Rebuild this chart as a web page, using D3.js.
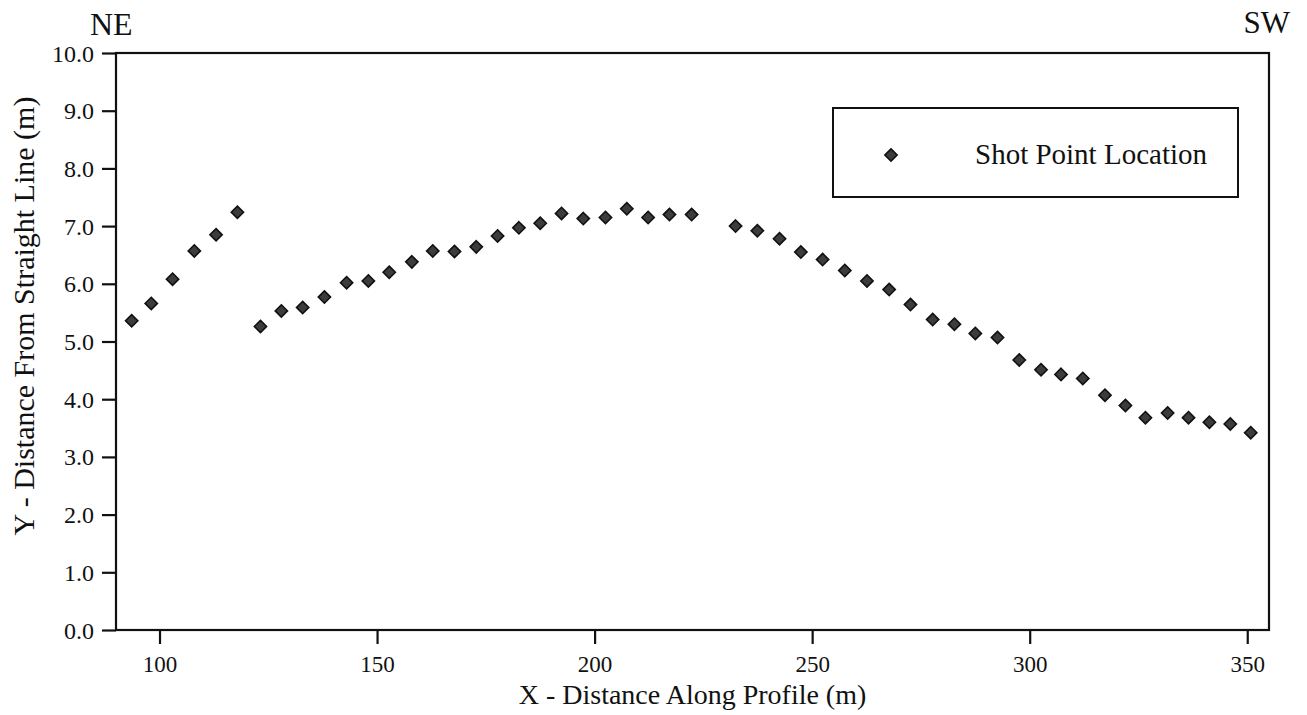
<!DOCTYPE html>
<html>
<head>
<meta charset="utf-8">
<script src="https://cdn.jsdelivr.net/npm/d3@7"></script>
<style>
  html, body { margin: 0; padding: 0; background: #fff; overflow: hidden; }
  svg { display: block; }
  text { font-family: "Liberation Serif", "Times New Roman", serif; fill: #111; }
</style>
</head>
<body>
<div id="chart"></div>
<script>
// Chart size
var width = 1307;
var height = 715;

// Margins
var margin = { top: 53, right: 38, bottom: 85, left: 116 };

var innerWidth = width - margin.left - margin.right;
var innerHeight = height - margin.top - margin.bottom;

// Data
var xDistance = [93.6, 98.1, 103.0, 108.0, 113.0, 117.9, 123.2, 128.0, 132.9, 137.9,
  143.0, 148.0, 152.8, 158.0, 162.8, 167.8, 172.8, 177.7, 182.6, 187.5,
  192.4, 197.4, 202.5, 207.4, 212.3, 217.2, 222.3, 232.4, 237.4, 242.5,
  247.4, 252.4, 257.5, 262.6, 267.7, 272.6, 277.7, 282.7, 287.5, 292.6,
  297.6, 302.6, 307.2, 312.2, 317.3, 322.0, 326.6, 331.7, 336.5, 341.3,
  346.1, 350.8];
var yDistance = [5.36, 5.66, 6.08, 6.57, 6.85, 7.24, 5.26, 5.53, 5.59, 5.77,
  6.02, 6.05, 6.20, 6.38, 6.57, 6.56, 6.64, 6.83, 6.97, 7.05,
  7.22, 7.13, 7.15, 7.30, 7.15, 7.20, 7.20, 7.00, 6.92, 6.78,
  6.55, 6.42, 6.23, 6.05, 5.90, 5.64, 5.38, 5.30, 5.14, 5.07,
  4.68, 4.51, 4.43, 4.36, 4.07, 3.89, 3.68, 3.76, 3.68, 3.60,
  3.57, 3.42];
var xTicks = [100, 150, 200, 250, 300, 350];
var yTicks = [0, 1, 2, 3, 4, 5, 6, 7, 8, 9, 10];
var seriesName = "Shot Point Location";

var data = xDistance.map(function (x, i) {
  return { x: x, y: yDistance[i] };
});

// Create SVG
var svg = d3.select("#chart")
  .append("svg")
  .attr("width", width)
  .attr("height", height);

var chartGroup = svg.append("g")
  .attr("transform", "translate(" + margin.left + "," + margin.top + ")");

// Scales
var xScale = d3.scaleLinear()
  .domain([90, 355])
  .range([0, innerWidth]);

var yScale = d3.scaleLinear()
  .domain([0, 10])
  .range([innerHeight, 0]);

// x-axis
var xAxis = chartGroup.append("g")
  .attr("transform", "translate(0," + innerHeight + ")")
  .call(d3.axisBottom(xScale).tickValues(xTicks).tickSize(14).tickSizeOuter(0).tickPadding(12))
  .attr("font-family", "'Liberation Serif', serif")
  .attr("font-size", 23);

// y-axis
var yAxis = chartGroup.append("g")
  .call(d3.axisLeft(yScale).tickValues(yTicks).tickSize(14).tickSizeOuter(0).tickPadding(8)
    .tickFormat(d3.format(".1f")))
  .attr("font-family", "'Liberation Serif', serif")
  .attr("font-size", 24);

[xAxis, yAxis].forEach(function (ax) {
  ax.select(".domain").remove();
  ax.selectAll("line").attr("stroke", "#111").attr("stroke-width", 2.2);
  ax.selectAll("text").attr("fill", "#111");
});

// baseline set directly so the label box sits on the tick
yAxis.selectAll("text").attr("dy", null).attr("y", 8);

// Frame
chartGroup.append("rect")
  .attr("width", innerWidth)
  .attr("height", innerHeight)
  .attr("fill", "none")
  .attr("stroke", "#111")
  .attr("stroke-width", 2.2);

// Diamonds
var diamond = d3.symbol().type(d3.symbolDiamond2).size(96);

chartGroup.selectAll(".pt")
  .data(data)
  .enter()
  .append("path")
  .attr("class", "pt")
  .attr("d", diamond)
  .attr("transform", function (d) {
    return "translate(" + xScale(d.x) + "," + yScale(d.y) + ")";
  })
  .attr("fill", "#3c3c3c")
  .attr("stroke", "#111")
  .attr("stroke-width", 1.6);

// Legend
var legend = chartGroup.append("g")
  .attr("transform", "translate(" + (833 - margin.left) + "," + (108 - margin.top) + ")");

legend.append("rect")
  .attr("width", 405)
  .attr("height", 89)
  .attr("fill", "#fff")
  .attr("stroke", "#111")
  .attr("stroke-width", 2);

legend.append("path")
  .attr("d", diamond)
  .attr("transform", "translate(58,47)")
  .attr("fill", "#3c3c3c")
  .attr("stroke", "#111")
  .attr("stroke-width", 1.6);

legend.append("text")
  .attr("x", 142)
  .attr("y", 56)
  .style("font-size", "29px")
  .text(seriesName);

// Axis titles
svg.append("text")
  .attr("x", margin.left + innerWidth / 2)
  .attr("y", 704)
  .attr("text-anchor", "middle")
  .style("font-size", "28px")
  .text("X - Distance Along Profile (m)");

svg.append("text")
  .attr("transform", "translate(34,316) rotate(-90)")
  .attr("text-anchor", "middle")
  .style("font-size", "30px")
  .text("Y - Distance From Straight Line (m)");

// Direction labels
svg.append("text")
  .attr("x", 90)
  .attr("y", 35)
  .style("font-size", "32px")
  .text("NE");

svg.append("text")
  .attr("x", 1290)
  .attr("y", 33)
  .attr("text-anchor", "end")
  .style("font-size", "31px")
  .text("SW");
</script>
</body>
</html>
